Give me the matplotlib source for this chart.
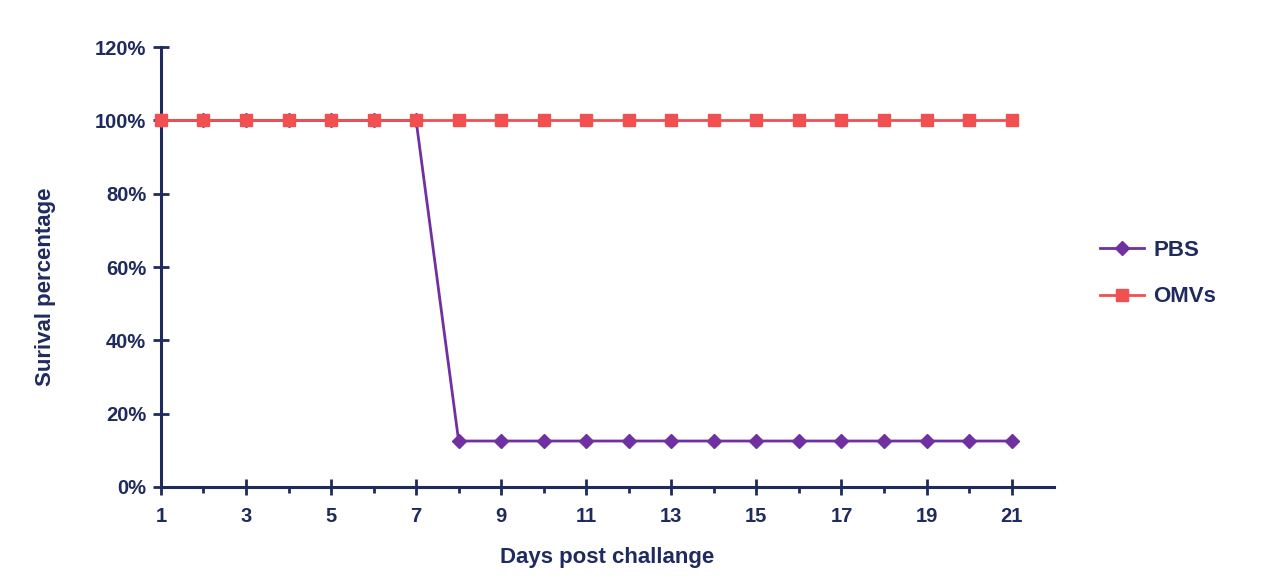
import matplotlib; matplotlib.use("Agg")
import matplotlib.pyplot as plt
from matplotlib.ticker import FuncFormatter

NAVY = "#1F2A5E"; PURPLE = "#7030A0"; RED = "#F05050"

days = list(range(1, 22))
pbs = [100, 100, 100, 100, 100, 100, 100] + [12.5] * 14
omvs = [100] * 21

plt.rcParams["font.family"] = ["Liberation Sans", "DejaVu Sans"]

fig = plt.figure(figsize=(12.67, 5.83), dpi=100)
ax = fig.add_axes([0.127, 0.165, 0.705, 0.754])

ax.plot(days, pbs, "D-", color=PURPLE, lw=2, ms=7, label="PBS", zorder=3)
ax.plot(days, omvs, "s-", color=RED, lw=2, ms=9, label="OMVs", zorder=4)

ax.set_xlim(1, 22)
ax.set_ylim(0, 120)
ax.set_xticks([1, 3, 5, 7, 9, 11, 13, 15, 17, 19, 21])
ax.set_xticks(range(2, 21, 2), minor=True)
ax.set_yticks(range(0, 121, 20))
ax.yaxis.set_major_formatter(FuncFormatter(lambda v, p: f"{int(v)}%"))

for s in ["top", "right"]:
    ax.spines[s].set_visible(False)
for s in ["left", "bottom"]:
    ax.spines[s].set_color(NAVY)
    ax.spines[s].set_linewidth(2.2)
    ax.spines[s].set_zorder(2)

ax.tick_params(axis="both", which="major", direction="inout", length=11, width=2,
               color=NAVY, labelcolor=NAVY, labelsize=14.5)
ax.tick_params(axis="x", which="major", pad=9)
ax.tick_params(axis="y", which="major", pad=5)
ax.tick_params(axis="x", which="minor", direction="out", length=4, width=2, color=NAVY)
for t in ax.get_xticklabels() + ax.get_yticklabels():
    t.set_fontweight("bold")

ax.set_xlabel("Days post challange", fontsize=16, fontweight="bold", color=NAVY, labelpad=15)
ax.set_ylabel("Surival percentage", fontsize=16, fontweight="bold", color=NAVY)
ax.yaxis.set_label_coords(-0.117, 0.455)

ax.legend(loc="center left", bbox_to_anchor=(1.029, 0.485), frameon=False,
          prop=dict(weight="bold", size=16), labelcolor=NAVY,
          handlelength=2.0, labelspacing=1.15, handletextpad=0.4)

for l in ax.lines:
    l.set_clip_on(False)

fig.savefig("out.png", dpi=100)
